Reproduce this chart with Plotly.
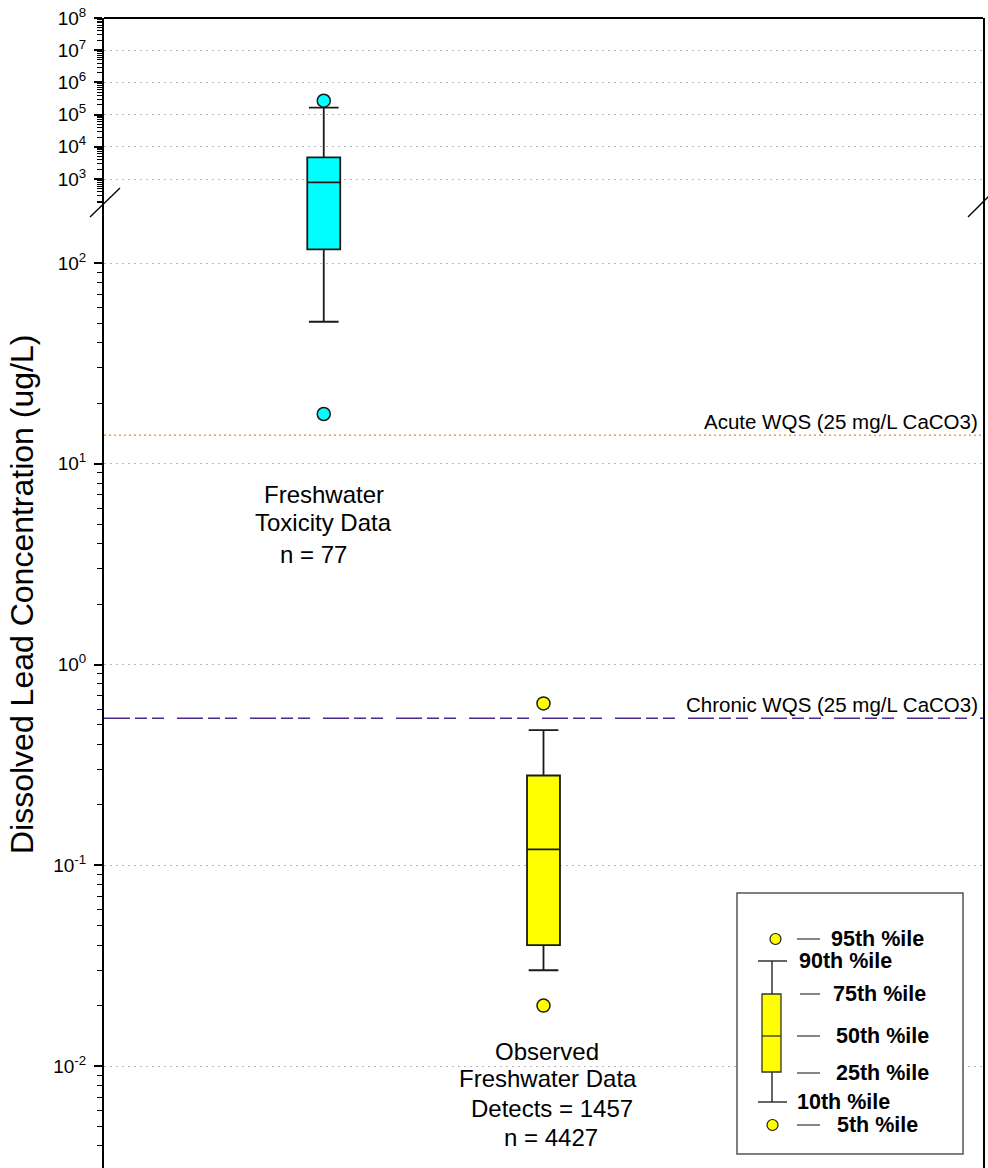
import numpy as np
import plotly.graph_objects as go

# ---------------- data ----------------
categories = ["Freshwater Toxicity Data", "Observed Freshwater Data"]
positions = [1, 2]
p5 = [17.7, 0.020]
p10 = [51.0, 0.030]
p25 = [117.0, 0.040]
p50 = [790.0, 0.120]
p75 = [4720.0, 0.280]
p90 = [1.64e5, 0.471]
p95 = [2.7e5, 0.640]
fills = ["#00FFFF", "#FFFF00"]

acute_wqs = 13.88
chronic_wqs = 0.54
acute_label = "Acute WQS (25 mg/L CaCO3)"
chronic_label = "Chronic WQS (25 mg/L CaCO3)"

lower_ticks = [1e-2, 1e-1, 1e0, 1e1, 1e2]
lower_ticktext = ["10<sup>-2</sup>", "10<sup>-1</sup>", "10<sup>0</sup>", "10<sup>1</sup>", "10<sup>2</sup>"]
upper_ticks = [1e3, 1e4, 1e5, 1e6, 1e7, 1e8]
upper_ticktext = ["10<sup>3</sup>", "10<sup>4</sup>", "10<sup>5</sup>", "10<sup>6</sup>", "10<sup>7</sup>", "10<sup>8</sup>"]

group_text = [
    ["Freshwater", "Toxicity Data", "n = 77"],
    ["Observed", "Freshwater Data", "Detects = 1457", "n = 4427"],
]
legend_labels = ["95th %ile", "90th %ile", "75th %ile", "50th %ile", "25th %ile", "10th %ile", "5th %ile"]

# ---------------- geometry ----------------
W, H = 988, 1168
ML, MR, MT, MB = 104, 5, 18, 0
PW, PH = W - ML - MR, H - MT - MB


def px(x):
    return (x - ML) / PW


def py(y):
    return (H - MB - y) / PH


split = py(202)
FONT = "Liberation Sans, Arial, sans-serif"
EDGE = "#1a1a1a"

fig = go.Figure()

# boxes (drawn in both the lower and upper (compressed) segments)
for i in range(2):
    for ax in ["y", "y2"]:
        fig.add_trace(go.Box(
            x=[positions[i]], q1=[p25[i]], median=[p50[i]], q3=[p75[i]],
            lowerfence=[p10[i]], upperfence=[p90[i]],
            orientation="v", width=0.15, whiskerwidth=0.9,
            fillcolor=fills[i], line=dict(color=EDGE, width=1.8),
            boxpoints=False, showlegend=False, xaxis="x", yaxis=ax,
            name=categories[i],
        ))
        fig.add_trace(go.Scatter(
            x=[positions[i], positions[i]], y=[p5[i], p95[i]], mode="markers",
            marker=dict(size=13, color=fills[i], line=dict(color=EDGE, width=1.5)),
            showlegend=False, xaxis="x", yaxis=ax, cliponaxis=True,
        ))

# WQS lines
fig.add_trace(go.Scatter(x=[0, 4], y=[acute_wqs, acute_wqs], mode="lines",
                         line=dict(color="#F0A040", width=1.5, dash="2px,3px"),
                         showlegend=False, xaxis="x", yaxis="y"))
fig.add_trace(go.Scatter(x=[0, 4], y=[chronic_wqs, chronic_wqs], mode="lines",
                         line=dict(color="#4B2A8C", width=1.6, dash="26px,5px,12px,5px,12px,13px"),
                         showlegend=False, xaxis="x", yaxis="y"))


def minor_vals(lo, hi):
    out = []
    for d in range(lo, hi):
        for k in range(2, 10):
            out.append(k * 10.0 ** d)
    return out


axis_common = dict(
    type="log", showline=True, linecolor="black", linewidth=2, mirror=True,
    ticks="outside", ticklen=8, tickwidth=1.5, tickcolor="black",
    tickfont=dict(family=FONT, size=19, color="black"), ticklabelstandoff=4,
    showgrid=True, gridcolor="#b8b8b8", gridwidth=1, griddash="2px,4px",
    zeroline=False, tickmode="array",
)

fig.update_layout(
    width=W, height=H, margin=dict(l=ML, r=MR, t=MT, b=MB),
    paper_bgcolor="white", plot_bgcolor="white", boxmode="overlay",
    xaxis=dict(range=[0, 4], showline=False, showticklabels=False, ticks="",
               showgrid=False, zeroline=False, anchor="y"),
    yaxis=dict(domain=[0, split], range=[-2.508, 2.304], tickvals=lower_ticks,
               ticktext=lower_ticktext,
               minor=dict(tickmode="array", tickvals=minor_vals(-3, 3), ticks="outside",
                          ticklen=5, tickwidth=1.2, tickcolor="black", showgrid=False),
               anchor="x", **axis_common),
    yaxis2=dict(domain=[split, 1], range=[2.286, 8], tickvals=upper_ticks,
                ticktext=upper_ticktext,
                minor=dict(tickmode="array", tickvals=minor_vals(2, 8), ticks="outside",
                           ticklen=5, tickwidth=1.2, tickcolor="black", showgrid=False),
                anchor="x", **axis_common),
    showlegend=False,
)

shapes = []
# top border
shapes.append(dict(type="line", xref="paper", yref="paper", x0=0, x1=1, y0=1, y1=1,
                   line=dict(color="black", width=2)))
# axis break marks
shapes.append(dict(type="line", xref="paper", yref="paper", x0=px(90), y0=py(217), x1=px(120), y1=py(188),
                   line=dict(color="black", width=1.3)))
shapes.append(dict(type="line", xref="paper", yref="paper", x0=px(968), y0=py(217), x1=px(990), y1=py(195),
                   line=dict(color="black", width=1.3)))

# legend key box
shapes.append(dict(type="rect", xref="paper", yref="paper", x0=px(737), x1=px(963), y0=py(1154), y1=py(893),
                   line=dict(color="#555555", width=1.5), fillcolor="white"))
# legend glyph
shapes.append(dict(type="circle", xref="paper", yref="paper", x0=px(770), x1=px(781), y0=py(944.5), y1=py(933.5),
                   line=dict(color=EDGE, width=1.2), fillcolor="#FFFF00"))
shapes.append(dict(type="circle", xref="paper", yref="paper", x0=px(767), x1=px(778), y0=py(1130.5), y1=py(1119.5),
                   line=dict(color=EDGE, width=1.2), fillcolor="#FFFF00"))
shapes.append(dict(type="line", xref="paper", yref="paper", x0=px(758), x1=px(787), y0=py(961), y1=py(961),
                   line=dict(color="#333333", width=1.5)))
shapes.append(dict(type="line", xref="paper", yref="paper", x0=px(758), x1=px(787), y0=py(1102), y1=py(1102),
                   line=dict(color="#333333", width=1.5)))
shapes.append(dict(type="line", xref="paper", yref="paper", x0=px(772), x1=px(772), y0=py(961), y1=py(994),
                   line=dict(color="#333333", width=1.5)))
shapes.append(dict(type="line", xref="paper", yref="paper", x0=px(772), x1=px(772), y0=py(1072), y1=py(1102),
                   line=dict(color="#333333", width=1.5)))
shapes.append(dict(type="rect", xref="paper", yref="paper", x0=px(762), x1=px(781), y0=py(1072), y1=py(994),
                   line=dict(color="#333333", width=1.3), fillcolor="#FFFF00"))
shapes.append(dict(type="line", xref="paper", yref="paper", x0=px(762), x1=px(781), y0=py(1036), y1=py(1036),
                   line=dict(color="#333333", width=1.3)))

leg_rows_y = [939, 961, 994, 1036, 1073, 1102, 1125]
leg_text_x = [829, 797, 831, 834, 834, 795, 835]
leg_dash = [True, False, True, True, True, False, True]
for yy, dsh in zip(leg_rows_y, leg_dash):
    if dsh:
        x0 = 797 if yy != 994 else 800
        shapes.append(dict(type="line", xref="paper", yref="paper", x0=px(x0), x1=px(820), y0=py(yy), y1=py(yy),
                           line=dict(color="#333333", width=1.2)))

annotations = []
for lab, yy, xx in zip(legend_labels, leg_rows_y, leg_text_x):
    annotations.append(dict(text="<b>%s</b>" % lab, xref="paper", yref="paper", x=px(xx), y=py(yy),
                            xanchor="left", yanchor="middle", showarrow=False,
                            font=dict(family=FONT, size=21.5, color="black")))

# group labels
grp_y = [[494, 522, 555], [1051, 1078, 1108, 1137]]
grp_xshift = [[0, 0, -10], [3, 4, 8, 7]]
for i in range(2):
    for t, yy, xs in zip(group_text[i], grp_y[i], grp_xshift[i]):
        annotations.append(dict(text=t, xref="x", yref="paper", x=positions[i], y=py(yy), xshift=xs,
                                xanchor="center", yanchor="middle", showarrow=False,
                                font=dict(family=FONT, size=24, color="black")))

# WQS labels
annotations.append(dict(text=acute_label, xref="paper", yref="y", x=1, y=np.log10(acute_wqs),
                        xanchor="right", yanchor="bottom", xshift=-3, yshift=0, showarrow=False,
                        font=dict(family=FONT, size=20.5, color="black")))
annotations.append(dict(text=chronic_label, xref="paper", yref="y", x=1, y=np.log10(chronic_wqs),
                        xanchor="right", yanchor="bottom", xshift=-3, yshift=0, showarrow=False,
                        font=dict(family=FONT, size=20.5, color="black")))

# y-axis title
annotations.append(dict(text="Dissolved Lead Concentration (ug/L)", xref="paper", yref="paper",
                        x=px(22), y=py(595), textangle=-90, xanchor="center", yanchor="middle",
                        showarrow=False, font=dict(family=FONT, size=32, color="black")))

fig.update_layout(shapes=shapes, annotations=annotations)
fig.write_html("out.html")
